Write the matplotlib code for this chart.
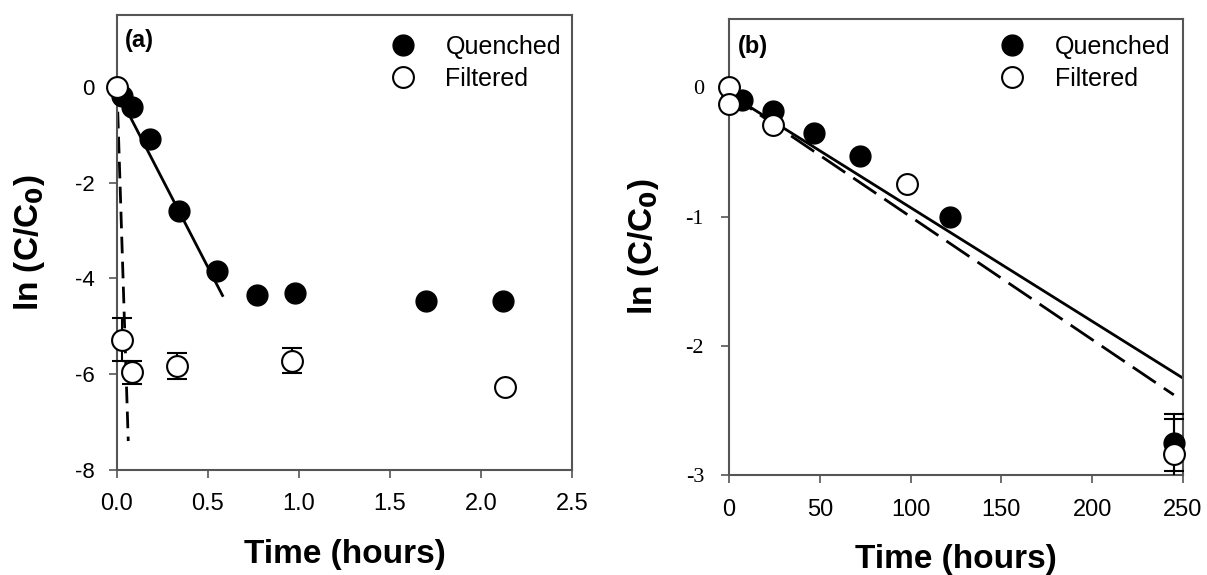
import matplotlib
matplotlib.use("Agg")
import matplotlib.pyplot as plt
import numpy as np

plt.rcParams['font.family'] = ['Liberation Sans', 'DejaVu Sans']
plt.rcParams['axes.unicode_minus'] = False

# panel (a): short times
a_q_t = [0.03, 0.08, 0.18, 0.34, 0.55, 0.77, 0.98, 1.70, 2.12]
a_q_y = [-0.2, -0.42, -1.1, -2.6, -3.85, -4.35, -4.3, -4.48, -4.48]
a_f_t = [0.0, 0.03, 0.08, 0.33, 0.96, 2.13]
a_f_y = [0.0, -5.28, -5.96, -5.84, -5.72, -6.27]
a_f_err = [0.0, 0.44, 0.24, 0.27, 0.26, 0.0]
a_fit_q_t = [0.005, 0.58]
a_fit_q_y = [-0.13, -4.36]
a_fit_f_t = [0.0, 0.062]
a_fit_f_y = [0.0, -7.4]

# panel (b): long times
b_q_t = [1, 7, 24, 47, 72, 122, 245]
b_q_y = [-0.1, -0.1, -0.18, -0.35, -0.53, -1.0, -2.75]
b_q_err = [0, 0, 0, 0, 0, 0, 0.22]
b_f_t = [0, 0, 24, 98, 245]
b_f_y = [0.0, -0.13, -0.29, -0.75, -2.84]
b_f_err = [0, 0, 0, 0, 0.27]
b_fit_q_t = [0, 250]
b_fit_q_y = [-0.05, -2.25]
b_fit_f_t = [0, 245]
b_fit_f_y = [-0.05, -2.38]

fig = plt.figure(figsize=(12.07, 5.75), dpi=100)
ax1 = fig.add_axes([0.0969, 0.183, 0.377, 0.791])
ax2 = fig.add_axes([0.604, 0.174, 0.376, 0.793])

ms = 15
spine_col = '#555555'


def style_axes(ax, ypad, ysize):
    for s in ax.spines.values():
        s.set_color(spine_col)
        s.set_linewidth(1.5)
    ax.tick_params(direction='out', length=6, width=1.2, color=spine_col)
    ax.tick_params(axis='x', pad=11, labelsize=17)
    ax.tick_params(axis='y', pad=ypad, labelsize=ysize)


def add_legend(ax, x, y):
    ax.legend(loc='upper left', bbox_to_anchor=(x, y), frameon=False,
              fontsize=18, handlelength=1.0, handletextpad=1.2,
              borderpad=0, borderaxespad=0, labelspacing=0.32, numpoints=1)


# ---- panel (a)
ax1.plot(a_fit_q_t, a_fit_q_y, '-', color='black', lw=2, zorder=2)
ax1.plot(a_fit_f_t, a_fit_f_y, '--', color='black', lw=2, dashes=(6, 3), zorder=2)
ax1.errorbar(a_f_t, a_f_y, yerr=a_f_err, fmt='none', ecolor='black',
             elinewidth=1.5, capsize=7, capthick=1.5, zorder=3, clip_on=False)
ax1.plot(a_q_t, a_q_y, 'o', ms=ms, mfc='black', mec='black', label='Quenched',
         zorder=4, clip_on=False)
ax1.plot(a_f_t, a_f_y, 'o', ms=ms, mfc='white', mec='black', mew=1.5,
         label='Filtered', zorder=5, clip_on=False)
ax1.set_xlim(0, 2.5)
ax1.set_ylim(-8, 1.5)
ax1.set_xticks([0.0, 0.5, 1.0, 1.5, 2.0, 2.5])
ax1.set_xticklabels(['0.0', '0.5', '1.0', '1.5', '2.0', '2.5'])
ax1.set_yticks([0, -2, -4, -6, -8])
style_axes(ax1, 10, 16)
ax1.set_xlabel('Time (hours)', fontsize=24, fontweight='bold', labelpad=17)
ax1.set_ylabel('ln (C/C$_\\mathbf{0}$)', fontsize=24, fontweight='bold', labelpad=20)
ax1.text(0.018, 0.97, '(a)', transform=ax1.transAxes, fontsize=17,
         fontweight='bold', va='top', ha='left')
add_legend(ax1, 0.601, 0.956)

# ---- panel (b)
ax2.plot(b_fit_q_t, b_fit_q_y, '-', color='black', lw=2, zorder=2)
ax2.plot(b_fit_f_t, b_fit_f_y, '--', color='black', lw=2, dashes=(10, 3.5), zorder=2)
ax2.errorbar(b_q_t, b_q_y, yerr=b_q_err, fmt='none', ecolor='black',
             elinewidth=1.5, capsize=7, capthick=1.5, zorder=3)
ax2.errorbar(b_f_t, b_f_y, yerr=b_f_err, fmt='none', ecolor='black',
             elinewidth=1.5, capsize=7, capthick=1.5, zorder=3)
ax2.plot(b_q_t, b_q_y, 'o', ms=ms, mfc='black', mec='black', label='Quenched',
         zorder=4, clip_on=False)
ax2.plot(b_f_t, b_f_y, 'o', ms=ms, mfc='white', mec='black', mew=1.5,
         label='Filtered', zorder=5, clip_on=False)
ax2.set_xlim(0, 250)
ax2.set_ylim(-3, 0.53)
ax2.set_xticks([0, 50, 100, 150, 200, 250])
ax2.set_yticks([0, -1, -2, -3])
style_axes(ax2, 12, 16)
for lab in ax2.get_yticklabels():
    lab.set_family('Liberation Serif')
ax2.set_xlabel('Time (hours)', fontsize=24, fontweight='bold', labelpad=17)
ax2.set_ylabel('ln (C/C$_\\mathbf{0}$)', fontsize=24, fontweight='bold', labelpad=18)
ax2.text(0.02, 0.965, '(b)', transform=ax2.transAxes, fontsize=17,
         fontweight='bold', va='top', ha='left')
add_legend(ax2, 0.596, 0.965)

fig.savefig('out.png', dpi=100)
